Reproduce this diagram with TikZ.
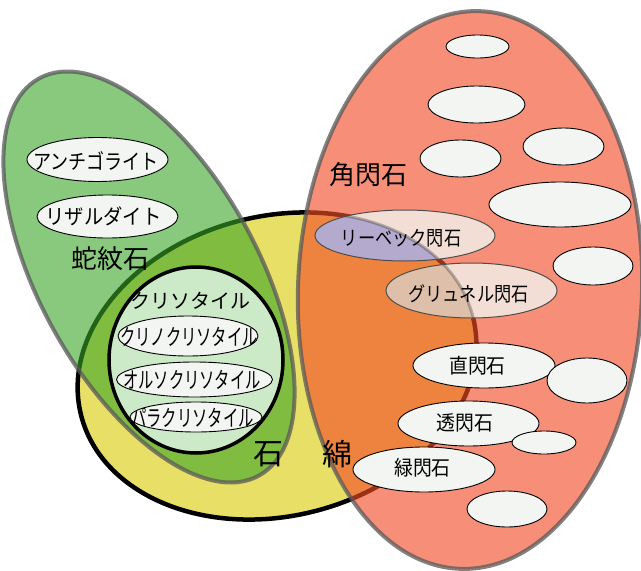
\documentclass[tikz,border=0pt]{standalone}
\usepackage{fontspec}
\newfontfamily\jp{Noto Sans CJK JP}
\newfontfamily\jpnarrow[FakeStretch=0.68]{Noto Sans CJK JP}
\newfontfamily\jpmid[FakeStretch=0.86]{Noto Sans CJK JP}
\newfontfamily\jpnine[FakeStretch=0.92]{Noto Sans CJK JP}
\definecolor{ylw}{RGB}{232,224,102}
\definecolor{grn}{RGB}{57,165,40}
\definecolor{amph}{RGB}{243,78,41}
\definecolor{bord}{RGB}{88,88,88}
\definecolor{chry}{RGB}{204,234,200}
\definecolor{wht}{RGB}{243,245,242}
\definecolor{rieb}{RGB}{242,222,212}
\definecolor{crocid}{RGB}{180,170,206}
\definecolor{amos}{RGB}{222,192,170}
\tikzset{
  lbl/.style={font=\jp\fontsize{#1}{#1}\selectfont, inner sep=0pt},
  nlbl/.style={font=\jpnarrow\fontsize{#1}{#1}\selectfont, inner sep=0pt},
  mlbl/.style={font=\jpmid\fontsize{#1}{#1}\selectfont, inner sep=0pt},
  klbl/.style={font=\jpnine\fontsize{#1}{#1}\selectfont, inner sep=0pt},
  blank/.style={fill=wht, draw=black, line width=0.9pt},
  asbrot/.style={rotate around={14:(277,366)}},
  serprot/.style={rotate around={-61:(149,277)}},
  amphrot/.style={rotate around={-2:(470,290)}},
  bigborder/.style={draw=bord, draw opacity=0.75, line width=4pt},
}
\begin{document}
\begin{tikzpicture}[x=1pt,y=-1pt]
\useasboundingbox (0,0) rectangle (641,571);
\clip (0,0) rectangle (641,571);
% asbestos
\fill[ylw, asbrot] (277,366) ellipse [x radius=202, y radius=150];
\draw[black, line width=4.5pt, asbrot] (277,366) ellipse [x radius=202, y radius=150];
% serpentine
\fill[grn, fill opacity=0.6, serprot] (149,277) ellipse [x radius=227, y radius=109];
% amphibole
\fill[amph, fill opacity=0.63, amphrot] (470,290) ellipse [x radius=172, y radius=279];
\draw[bigborder, serprot] (149,277) ellipse [x radius=227, y radius=109];
\draw[bigborder, amphrot] (470,290) ellipse [x radius=172, y radius=279];
% chrysotile
\draw[fill=chry, line width=3.5pt] (196,360) ellipse [x radius=87, y radius=93];
\draw[blank] (188,336) ellipse [x radius=70, y radius=20];
\draw[blank] (194.5,379.5) ellipse [x radius=78, y radius=17.5];
\draw[blank] (196,417) ellipse [x radius=66, y radius=15];
% serpentine members
\draw[blank] (97.5,159.5) ellipse [x radius=70.5, y radius=22];
\draw[blank] (107.5,216.5) ellipse [x radius=70.5, y radius=21.5];
% amphibole members
\fill[rieb] (405,235.5) ellipse [x radius=90, y radius=25.5];
\fill[rieb] (471.5,290.5) ellipse [x radius=85.5, y radius=27.5];
\begin{scope}
  \clip[asbrot] (277,366) ellipse [x radius=202, y radius=150];
  \fill[crocid] (405,235.5) ellipse [x radius=90, y radius=25.5];
  \fill[amos] (471.5,290.5) ellipse [x radius=85.5, y radius=27.5];
\end{scope}
\begin{scope}
  \clip (405,235.5) ellipse [x radius=90, y radius=25.5] (471.5,290.5) ellipse [x radius=85.5, y radius=27.5];
  \draw[black, draw opacity=0.25, line width=3pt, asbrot] (277,366) ellipse [x radius=202, y radius=150];
\end{scope}
\draw[black!70, line width=1pt] (405,235.5) ellipse [x radius=90, y radius=25.5];
\draw[black!70, line width=1pt] (471.5,290.5) ellipse [x radius=85.5, y radius=27.5];
\draw[blank] (477.5,46.5) ellipse [x radius=31.5, y radius=11.5];
\draw[blank] (476.5,104.5) ellipse [x radius=48.5, y radius=18.5];
\draw[blank] (460.5,158.5) ellipse [x radius=40.5, y radius=18.5];
\draw[blank] (563.5,146.5) ellipse [x radius=40.5, y radius=18.5];
\draw[blank] (560,204.5) ellipse [x radius=71, y radius=22.5];
\draw[blank] (593,266) ellipse [x radius=40, y radius=19];
\draw[blank] (484,365.5) ellipse [x radius=71, y radius=22.5];
\draw[blank] (587,380.5) ellipse [x radius=40, y radius=22.5];
\draw[blank] (468.5,423.5) ellipse [x radius=70.5, y radius=22.5];
\draw[blank] (544,442.5) ellipse [x radius=32, y radius=11.5];
\draw[blank] (424,469.5) ellipse [x radius=71, y radius=22.5];
\draw[blank] (507,509) ellipse [x radius=40, y radius=18];
% labels
\node[mlbl=21] (antigorite) at (96,161) {アンチゴライト};
\node[klbl=21] (lizardite) at (103.5,216.5) {リザルダイト};
\node[lbl=26] (serpentine) at (110,259) {蛇紋石};
\node[lbl=20] (chrysotile) at (190,301) {クリソタイル};
\node[nlbl=22.5] (clino) at (189,337) {クリノクリソタイル};
\node[nlbl=22.5] (ortho) at (192,380) {オルソクリソタイル};
\node[nlbl=22.5] (para) at (192.5,418) {パラクリソタイル};
\node[lbl=26] (amphibole) at (368,175) {角閃石};
\node[mlbl=20] (riebeckite) at (401,238.5) {リーベック閃石};
\node[mlbl=20] (grunerite) at (468.5,294) {グリュネル閃石};
\node[klbl=20.5] (anthophyllite) at (477.5,365.5) {直閃石};
\node[klbl=20.5] (tremolite) at (465,423) {透閃石};
\node[klbl=20.5] (actinolite) at (422.5,467.5) {緑閃石};
\node[lbl=30] (asb1) at (268,454) {石};
\node[lbl=30] (asb2) at (337,454) {綿};
\end{tikzpicture}
\end{document}
